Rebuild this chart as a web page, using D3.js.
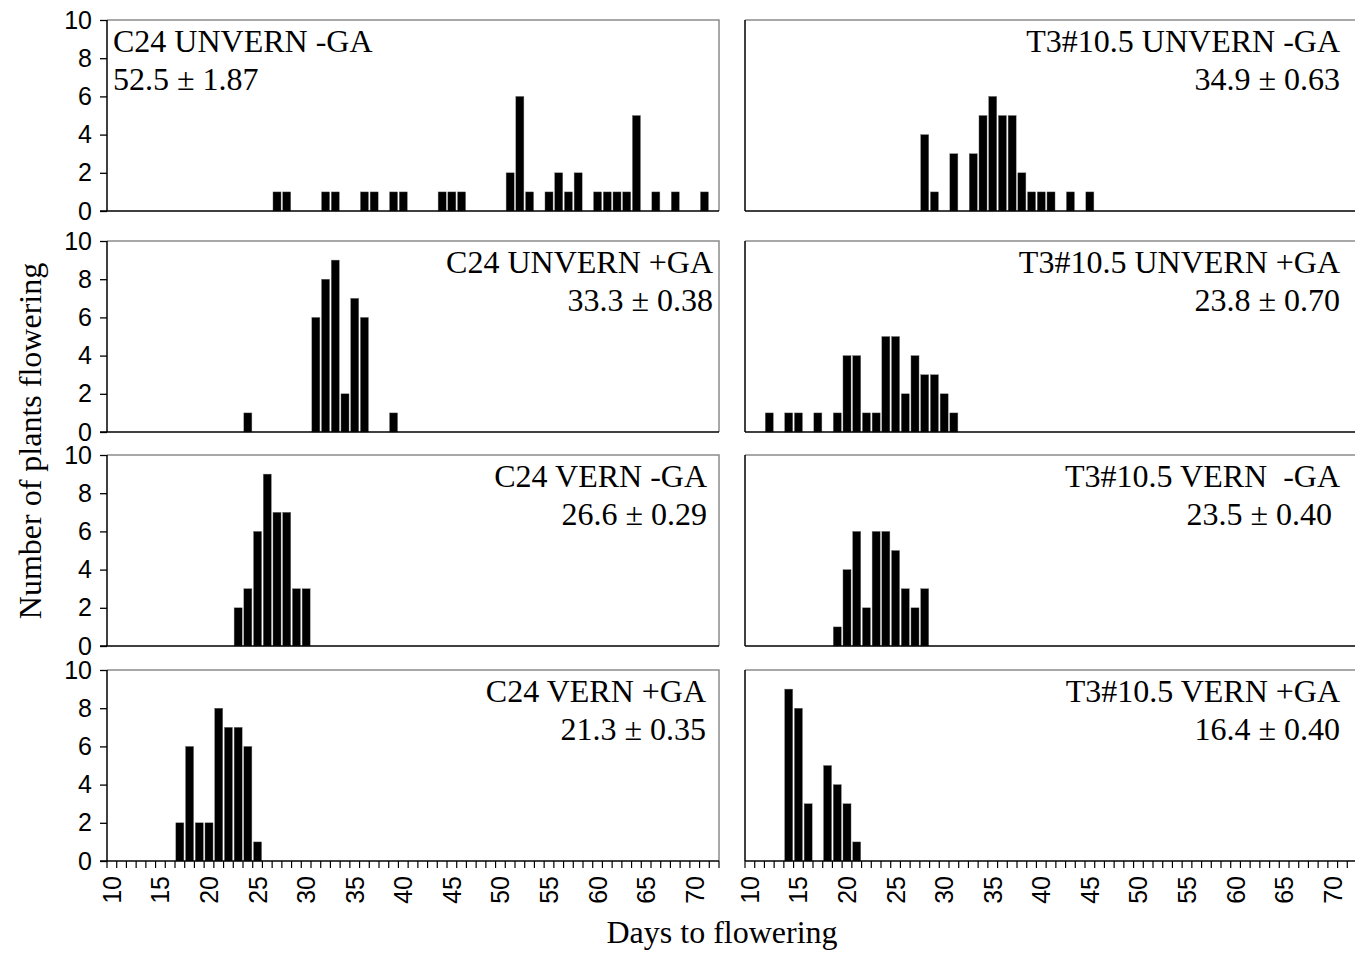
<!DOCTYPE html>
<html>
<head>
<meta charset="utf-8">
<script src="https://cdn.jsdelivr.net/npm/d3@7"></script>
<style>
  body { margin: 0; background: #fff; }
  text { white-space: pre; }
</style>
</head>
<body>
<div id="chart"></div>
<script>
// categories: one per day, 10 .. 72
const days = d3.range(10, 73);
const xTickLabels = [10, 15, 20, 25, 30, 35, 40, 45, 50, 55, 60, 65, 70];
const yTicks = [0, 2, 4, 6, 8, 10];

const panelNames = [
    'C24 UNVERN -GA', 'T3#10.5 UNVERN -GA',
    'C24 UNVERN +GA', 'T3#10.5 UNVERN +GA',
    'C24 VERN -GA', 'T3#10.5 VERN  -GA',
    'C24 VERN +GA', 'T3#10.5 VERN +GA'
];
const panelMeans = [
    '52.5 ± 1.87', '34.9 ± 0.63',
    '33.3 ± 0.38', '23.8 ± 0.70',
    '26.6 ± 0.29', '23.5 ± 0.40',
    '21.3 ± 0.35', '16.4 ± 0.40'
];

// [day, number of plants]
const c24UnvernNoGA = [[27, 1], [28, 1], [32, 1], [33, 1], [36, 1], [37, 1], [39, 1], [40, 1],
    [44, 1], [45, 1], [46, 1], [51, 2], [52, 6], [53, 1], [55, 1], [56, 2], [57, 1], [58, 2],
    [60, 1], [61, 1], [62, 1], [63, 1], [64, 5], [66, 1], [68, 1], [71, 1]];
const t3UnvernNoGA = [[28, 4], [29, 1], [31, 3], [33, 3], [34, 5], [35, 6], [36, 5], [37, 5],
    [38, 2], [39, 1], [40, 1], [41, 1], [43, 1], [45, 1]];
const c24UnvernGA = [[24, 1], [31, 6], [32, 8], [33, 9], [34, 2], [35, 7], [36, 6], [39, 1]];
const t3UnvernGA = [[12, 1], [14, 1], [15, 1], [17, 1], [19, 1], [20, 4], [21, 4], [22, 1],
    [23, 1], [24, 5], [25, 5], [26, 2], [27, 4], [28, 3], [29, 3], [30, 2], [31, 1]];
const c24VernNoGA = [[23, 2], [24, 3], [25, 6], [26, 9], [27, 7], [28, 7], [29, 3], [30, 3]];
const t3VernNoGA = [[19, 1], [20, 4], [21, 6], [22, 2], [23, 6], [24, 6], [25, 5], [26, 3],
    [27, 2], [28, 3]];
const c24VernGA = [[17, 2], [18, 6], [19, 2], [20, 2], [21, 8], [22, 7], [23, 7], [24, 6], [25, 1]];
const t3VernGA = [[14, 9], [15, 8], [16, 3], [18, 5], [19, 4], [20, 3], [21, 1]];

const panelData = [c24UnvernNoGA, t3UnvernNoGA, c24UnvernGA, t3UnvernGA,
    c24VernNoGA, t3VernNoGA, c24VernGA, t3VernGA];

// layout
const width = 1355;
const height = 953;
const colLeft = [107, 745];
const rowTop = [20, 241, 455, 670];
const plotW = 612;
const plotH = 191;
const serif = '"Liberation Serif", "Times New Roman", serif';
const sans = '"Liberation Sans", Arial, sans-serif';
const tickFont = '25px';
const titleFont = '32px';

// label placement per panel, relative to the plot; dx2 shifts the second line
const labelPos = [
    { x: 6, anchor: 'start', dx2: 0 },
    { x: 595, anchor: 'end', dx2: 0 },
    { x: 606, anchor: 'end', dx2: 0 },
    { x: 595, anchor: 'end', dx2: 0 },
    { x: 600, anchor: 'end', dx2: 0 },
    { x: 595, anchor: 'end', dx2: -8 },
    { x: 599, anchor: 'end', dx2: 0 },
    { x: 595, anchor: 'end', dx2: 0 }
];

const svg = d3.select('#chart')
    .append('svg')
    .attr('width', width)
    .attr('height', height)
    .style('font-family', sans);

const x = d3.scaleBand().domain(days).range([0, plotW]).padding(0);
const y = d3.scaleLinear().domain([0, 10]).range([plotH, 0]);
const barW = x.bandwidth() * 0.83;

panelData.forEach((data, i) => {
    const col = i % 2;
    const row = Math.floor(i / 2);
    const g = svg.append('g')
        .attr('transform', `translate(${colLeft[col]}, ${rowTop[row]})`);

    // plot frame (top and right in grey)
    g.append('path')
        .attr('d', `M0,0H${plotW}V${plotH}`)
        .attr('fill', 'none')
        .attr('stroke', '#8c8c8c')
        .attr('stroke-width', 1.5);

    // bars
    g.selectAll('rect.bar')
        .data(data)
        .enter().append('rect')
        .attr('class', 'bar')
        .attr('x', d => x(d[0]) + (x.bandwidth() - barW) / 2)
        .attr('y', d => y(d[1]))
        .attr('width', barW)
        .attr('height', d => y(0) - y(d[1]))
        .attr('fill', '#000')
        .attr('stroke', '#777')
        .attr('stroke-width', 0.4);

    // y axis
    if (col === 0) {
        const yAxis = g.append('g')
            .call(d3.axisLeft(y).tickValues(yTicks).tickSize(7).tickPadding(8).tickFormat(d3.format('d')));
        yAxis.select('.domain').attr('stroke', '#000').attr('stroke-width', 1.5).attr('d', `M0,0V${plotH}`);
        yAxis.selectAll('.tick line').attr('stroke', '#000').attr('stroke-width', 1.3);
        yAxis.selectAll('text').style('font-family', sans).style('font-size', tickFont).attr('fill', '#000');
    } else {
        g.append('line')
            .attr('x1', 0).attr('x2', 0).attr('y1', 0).attr('y2', plotH)
            .attr('stroke', '#000').attr('stroke-width', 1.5);
    }

    // x baseline
    g.append('line')
        .attr('x1', col === 0 ? -7 : 0).attr('x2', plotW)
        .attr('y1', plotH).attr('y2', plotH)
        .attr('stroke', '#000').attr('stroke-width', 1.5);

    // x ticks and labels on bottom row only
    if (row === 3) {
        const step = x.step();
        g.selectAll('line.xtick')
            .data(days.concat([73]))
            .enter().append('line')
            .attr('class', 'xtick')
            .attr('x1', d => (d - 10) * step)
            .attr('x2', d => (d - 10) * step)
            .attr('y1', plotH)
            .attr('y2', plotH + 7)
            .attr('stroke', '#000')
            .attr('stroke-width', 1.2);

        g.selectAll('text.xlab')
            .data(xTickLabels)
            .enter().append('text')
            .attr('class', 'xlab')
            .attr('transform', d => `translate(${x(d) + x.bandwidth() / 2}, ${plotH + 15}) rotate(-90)`)
            .attr('text-anchor', 'end')
            .attr('dy', '0.36em')
            .style('font-family', sans)
            .style('font-size', tickFont)
            .text(d => d);
    }

    // panel labels
    const lp = labelPos[i];
    g.append('text')
        .attr('x', lp.x)
        .attr('y', 32)
        .attr('text-anchor', lp.anchor)
        .style('font-family', serif)
        .style('font-size', titleFont)
        .text(panelNames[i]);
    g.append('text')
        .attr('x', lp.x + lp.dx2)
        .attr('y', 70)
        .attr('text-anchor', lp.anchor)
        .style('font-family', serif)
        .style('font-size', titleFont)
        .text(panelMeans[i]);
});

// axis titles
svg.append('text')
    .attr('transform', 'translate(41, 441) rotate(-90)')
    .attr('text-anchor', 'middle')
    .style('font-family', serif)
    .style('font-size', titleFont)
    .text('Number of plants flowering');

svg.append('text')
    .attr('x', 722)
    .attr('y', 943)
    .attr('text-anchor', 'middle')
    .style('font-family', serif)
    .style('font-size', titleFont)
    .text('Days to flowering');
</script>
</body>
</html>
